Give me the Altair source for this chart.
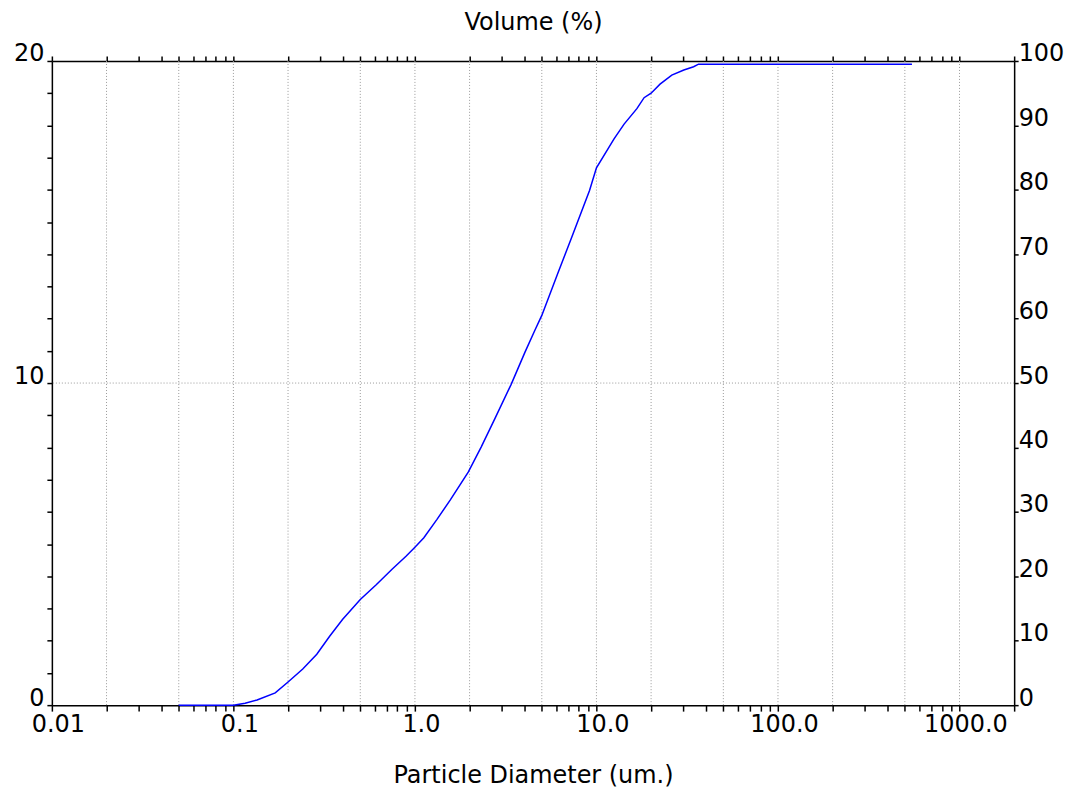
import altair as alt
import pandas as pd

# ---- data ----
diameter_um = [0.05, 0.1, 0.116, 0.135, 0.17, 0.2, 0.241, 0.288, 0.339, 0.399,
               0.5, 0.612, 0.748, 0.893, 1.0, 1.12, 1.32, 1.57, 1.97, 2.32,
               2.77, 3.39, 4.04, 4.58, 5.0, 6.12, 7.3, 9.16, 10.0, 12.5,
               14.2, 16.7, 18.3, 20.0, 22.4, 26.0, 30.3, 34.3, 36.5, 40.0, 547.0]
volume_pct = [0, 0, 0.3, 0.8, 1.9, 3.6, 5.6, 7.9, 10.7, 13.3,
              16.4, 18.7, 21.1, 23.1, 24.5, 26.0, 28.8, 31.9, 36.2, 40.1,
              44.6, 49.8, 54.8, 58.2, 60.5, 67.0, 72.6, 79.9, 83.4, 87.9,
              90.2, 92.6, 94.3, 95.0, 96.4, 97.8, 98.6, 99.1, 99.5, 99.5, 99.5]

grid_diameters = [0.02, 0.05, 0.1, 0.2, 0.5, 1, 2, 5, 10, 20, 50, 100, 200, 500, 1000]
decade_values = [0.01, 0.1, 1, 10, 100, 1000]
decade_labels = ["0.01", "0.1", "1.0", "10.0", "100.0", "1000.0"]
left_ticks = list(range(0, 21))
left_labelled = [0, 10, 20]
right_ticks = [0, 10, 20, 30, 40, 50, 60, 70, 80, 90, 100]
hline_left_value = [10]

x_ticks = sorted(set(round(k * 10.0 ** e, 6) for e in range(-2, 3) for k in range(1, 10)) | {1000.0, 2000.0})

FONT = "DejaVu Sans"
FS = 24
GRID_COLOR = "#9a9a9a"

curve_df = pd.DataFrame({"d": diameter_um, "v": volume_pct})
grid_df = pd.DataFrame({"d": grid_diameters})
hline_df = pd.DataFrame({"y": hline_left_value})

xscale = alt.Scale(type="log", domain=[0.01, 2000], nice=False)

bottom_expr = " : ".join(f"datum.value == {v} ? '{t}'" for v, t in zip(decade_values, decade_labels)) + " : ''"
left_expr = " : ".join(f"datum.value == {v} ? '{v}'" for v in left_labelled) + " : ''"

common = dict(
    domainColor="black", domainWidth=1.5, tickColor="black", tickWidth=1.5,
    grid=False, labelFont=FONT, labelFontSize=FS, labelColor="black",
    titleFont=FONT, titleFontSize=FS, titleFontWeight="normal", titleColor="black",
    labelOverlap=False,
)

grid_layer = alt.Chart(grid_df).mark_rule(
    color=GRID_COLOR, strokeWidth=1, strokeDash=[1, 2]
).encode(
    x=alt.X("d:Q", scale=xscale, axis=alt.Axis(
        orient="top", values=x_ticks, labels=False, tickSize=5,
        title="Volume (%)", titlePadding=21, **common))
)

hline_layer = alt.Chart(hline_df).mark_rule(
    color=GRID_COLOR, strokeWidth=1, strokeDash=[1, 2]
).encode(
    y=alt.Y("y:Q", scale=alt.Scale(domain=[0, 20], nice=False), axis=alt.Axis(
        orient="left", values=left_ticks, labelExpr=left_expr, tickSize=5,
        labelPadding=3, labelBaseline="alphabetic", title=None, **common))
)

curve_layer = alt.Chart(curve_df).mark_line(color="#0000ff", strokeWidth=1.5).encode(
    x=alt.X("d:Q", scale=xscale, axis=alt.Axis(
        orient="bottom", values=x_ticks, labelExpr=bottom_expr, tickSize=6,
        labelPadding=1, labelOffset=6, labelFlush=False,
        title="Particle Diameter (um.)", titlePadding=28, **common)),
    y=alt.Y("v:Q", scale=alt.Scale(domain=[0, 100], nice=False), axis=alt.Axis(
        orient="right", values=right_ticks, tickSize=4, labelPadding=0,
        labelAlign="left", labelBaseline="alphabetic", title=None, **common)),
)

chart = alt.layer(grid_layer, hline_layer, curve_layer).resolve_scale(
    y="independent"
).resolve_axis(
    x="independent", y="independent"
).properties(
    width=965, height=646,
    autosize=alt.AutoSizeParams(type="none"),
    padding={"left": 44, "top": 52, "right": 52, "bottom": 90},
).configure_view(stroke=None).configure(background="white")

chart.save("out.html", embed_options={"renderer": "svg", "actions": False})
